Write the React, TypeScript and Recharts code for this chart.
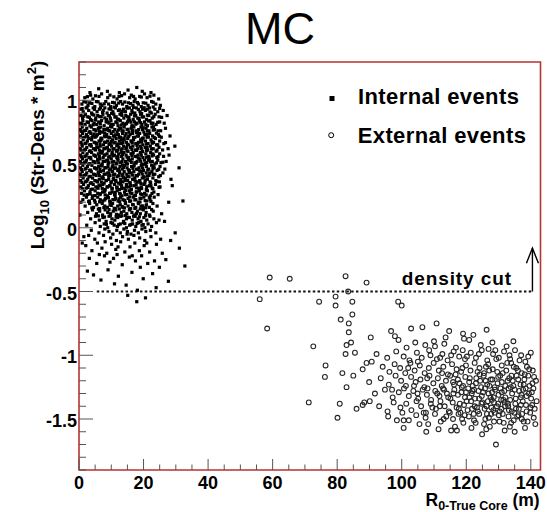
import React from 'react';
import { ScatterChart, Scatter, XAxis, YAxis, ReferenceLine, ReferenceDot, ReferenceArea, Legend } from 'recharts';

// Internal events: flat list of (R [m], log10 density) pairs
const internalEvents: number[] = [
  3.4,1.06, 6.1,1.09, 8.8,1.07, 12.5,1.06, 15.2,1.08, 17.9,1.1, 19.6,1.07, 22.3,1.06,
  1.8,1.02, 3.6,1.04, 4.3,1.01, 6.2,1.03, 7.0,1.05, 8.9,1.02, 9.6,1.04, 11.8,1.01, 12.4,1.03, 14.1,1.05, 15.7,1.02, 16.2,1.04, 17.4,1.01, 18.8,1.03, 20.3,1.05, 21.1,1.02, 23.2,1.04, 24.7,1.01,
  0.9,0.97, 1.5,0.99, 2.8,0.96, 3.3,0.98, 4.9,0.95, 5.4,0.99, 6.6,0.97, 7.1,0.96, 8.3,0.99, 9.2,0.97, 9.8,0.95, 11.0,0.98, 11.6,0.96, 12.9,0.99, 13.5,0.97, 14.8,0.95, 15.3,0.98, 16.7,0.96, 17.1,0.99, 18.4,0.97, 19.3,0.95, 19.9,0.98, 21.4,0.96, 22.5,0.99, 23.8,0.97, 25.2,0.96,
  0.7,0.93, 1.3,0.91, 2.2,0.94, 3.0,0.92, 3.9,0.9, 4.4,0.94, 5.6,0.91, 6.3,0.93, 7.5,0.92, 8.0,0.94, 8.7,0.9, 9.9,0.93, 10.5,0.91, 11.3,0.94, 12.2,0.92, 13.1,0.9, 13.8,0.93, 14.4,0.91, 15.6,0.94, 16.4,0.92, 17.3,0.9, 17.8,0.94, 18.9,0.91, 19.7,0.93, 20.6,0.92, 21.8,0.94, 22.4,0.9, 23.5,0.93, 24.4,0.91, 26.1,0.92,
  0.6,0.88, 1.1,0.86, 2.0,0.89, 2.7,0.87, 3.6,0.85, 4.1,0.89, 5.2,0.86, 5.8,0.88, 6.9,0.87, 7.4,0.89, 8.5,0.85, 9.1,0.88, 9.7,0.86, 10.8,0.89, 11.5,0.87, 12.3,0.85, 12.7,0.89, 13.9,0.86, 14.5,0.88, 15.1,0.87, 16.0,0.89, 16.8,0.85, 17.6,0.88, 18.2,0.86, 19.1,0.89, 20.0,0.87, 20.9,0.85, 21.6,0.88, 22.7,0.86, 23.6,0.89, 24.8,0.87, 27.3,0.88,
  0.5,0.82, 1.2,0.84, 1.9,0.81, 2.5,0.83, 3.4,0.8, 4.0,0.84, 4.7,0.82, 5.5,0.81, 6.1,0.83, 7.0,0.84, 7.8,0.8, 8.4,0.83, 9.3,0.82, 9.9,0.84, 10.6,0.81, 11.4,0.83, 12.1,0.8, 12.8,0.84, 13.6,0.82, 14.2,0.81, 15.0,0.83, 15.7,0.84, 16.5,0.8, 17.2,0.83, 18.0,0.82, 18.7,0.84, 19.5,0.81, 20.3,0.83, 21.2,0.8, 22.0,0.84, 22.9,0.82, 23.9,0.81, 25.0,0.83, 26.4,0.82,
  0.4,0.77, 1.0,0.79, 1.6,0.76, 2.4,0.78, 3.1,0.75, 3.8,0.79, 4.6,0.77, 5.3,0.76, 6.0,0.78, 6.7,0.79, 7.3,0.75, 8.2,0.77, 8.9,0.78, 9.5,0.76, 10.2,0.79, 11.1,0.77, 11.8,0.75, 12.6,0.78, 13.3,0.76, 14.0,0.79, 14.9,0.77, 15.5,0.75, 16.2,0.78, 17.0,0.79, 17.7,0.76, 18.5,0.77, 19.2,0.79, 20.1,0.75, 20.8,0.78, 21.7,0.76, 22.6,0.79, 23.4,0.77, 24.5,0.76, 26.8,0.78,
  0.5,0.72, 1.1,0.74, 1.8,0.71, 2.3,0.73, 3.0,0.7, 3.7,0.74, 4.3,0.72, 5.0,0.71, 5.7,0.73, 6.4,0.74, 7.1,0.7, 7.9,0.72, 8.6,0.73, 9.2,0.71, 10.0,0.74, 10.7,0.72, 11.5,0.7, 12.2,0.73, 12.9,0.71, 13.5,0.74, 14.3,0.72, 15.1,0.7, 15.8,0.73, 16.6,0.74, 17.3,0.71, 18.1,0.72, 18.8,0.74, 19.6,0.7, 20.4,0.73, 21.1,0.71, 21.9,0.74, 22.8,0.72, 23.7,0.7, 24.6,0.73, 25.5,0.71, 28.2,0.72,
  0.6,0.67, 1.3,0.69, 1.9,0.66, 2.6,0.68, 3.3,0.65, 3.9,0.69, 4.7,0.67, 5.4,0.66, 6.2,0.68, 6.8,0.69, 7.6,0.65, 8.3,0.67, 8.9,0.68, 9.7,0.66, 10.4,0.69, 11.2,0.67, 11.9,0.65, 12.5,0.68, 13.2,0.66, 14.0,0.69, 14.7,0.67, 15.4,0.65, 16.1,0.68, 16.9,0.69, 17.6,0.66, 18.4,0.67, 19.1,0.69, 19.8,0.65, 20.6,0.68, 21.4,0.66, 22.3,0.69, 23.1,0.67, 24.0,0.65, 25.0,0.68, 26.3,0.66, 29.7,0.64,
  0.4,0.62, 1.0,0.64, 1.7,0.61, 2.4,0.63, 3.2,0.6, 3.8,0.64, 4.5,0.62, 5.1,0.61, 5.9,0.63, 6.6,0.64, 7.3,0.6, 8.0,0.62, 8.8,0.63, 9.4,0.61, 10.1,0.64, 10.9,0.62, 11.6,0.6, 12.4,0.63, 13.0,0.61, 13.8,0.64, 14.5,0.62, 15.2,0.6, 16.0,0.63, 16.7,0.64, 17.5,0.61, 18.2,0.62, 19.0,0.64, 19.7,0.6, 20.5,0.63, 21.3,0.61, 22.1,0.64, 23.0,0.62, 23.9,0.6, 24.8,0.63, 25.9,0.61, 27.6,0.62,
  0.5,0.57, 1.2,0.59, 1.8,0.56, 2.5,0.58, 3.1,0.55, 3.9,0.59, 4.6,0.57, 5.2,0.56, 6.0,0.58, 6.7,0.59, 7.5,0.55, 8.1,0.57, 8.7,0.58, 9.6,0.56, 10.3,0.59, 11.0,0.57, 11.7,0.55, 12.3,0.58, 13.1,0.56, 13.9,0.59, 14.6,0.57, 15.3,0.55, 16.1,0.58, 16.8,0.59, 17.4,0.56, 18.3,0.57, 19.0,0.59, 19.8,0.55, 20.7,0.58, 21.5,0.56, 22.2,0.59, 23.1,0.57, 24.1,0.55, 25.0,0.58, 26.2,0.56, 27.9,0.57,
  0.4,0.52, 1.1,0.54, 1.7,0.51, 2.3,0.53, 3.0,0.5, 3.7,0.54, 4.4,0.52, 5.0,0.51, 5.8,0.53, 6.5,0.54, 7.2,0.5, 7.9,0.52, 8.6,0.53, 9.3,0.51, 10.0,0.54, 10.8,0.52, 11.5,0.5, 12.1,0.53, 12.9,0.51, 13.6,0.54, 14.4,0.52, 15.0,0.5, 15.9,0.53, 16.5,0.54, 17.3,0.51, 18.0,0.52, 18.8,0.54, 19.5,0.5, 20.3,0.53, 21.0,0.51, 21.8,0.54, 22.7,0.52, 23.5,0.5, 24.4,0.53, 25.4,0.51, 27.0,0.52,
  0.5,0.47, 1.2,0.49, 1.9,0.46, 2.6,0.48, 3.3,0.45, 4.0,0.49, 4.8,0.47, 5.5,0.46, 6.1,0.48, 6.9,0.49, 7.6,0.45, 8.4,0.47, 9.0,0.48, 9.8,0.46, 10.5,0.49, 11.3,0.47, 12.0,0.45, 12.7,0.48, 13.4,0.46, 14.1,0.49, 14.9,0.47, 15.6,0.45, 16.3,0.48, 17.1,0.49, 17.8,0.46, 18.6,0.47, 19.3,0.49, 20.0,0.45, 20.9,0.48, 21.6,0.46, 22.5,0.49, 23.3,0.47, 24.2,0.45, 25.1,0.48, 26.6,0.46, 31.0,0.47,
  0.4,0.42, 1.0,0.44, 1.6,0.41, 2.4,0.43, 3.1,0.4, 3.8,0.44, 4.5,0.42, 5.3,0.41, 6.0,0.43, 6.7,0.44, 7.4,0.4, 8.2,0.42, 8.9,0.43, 9.6,0.41, 10.4,0.44, 11.1,0.42, 11.8,0.4, 12.6,0.43, 13.3,0.41, 14.0,0.44, 14.8,0.42, 15.5,0.4, 16.2,0.43, 17.0,0.44, 17.7,0.41, 18.5,0.42, 19.2,0.44, 20.0,0.4, 20.8,0.43, 21.7,0.41, 22.6,0.44, 23.5,0.42, 24.7,0.4, 26.0,0.43,
  0.5,0.37, 1.3,0.39, 2.0,0.36, 2.7,0.38, 3.5,0.35, 4.2,0.39, 4.9,0.37, 5.7,0.36, 6.3,0.38, 7.1,0.39, 7.8,0.35, 8.5,0.37, 9.2,0.38, 10.0,0.36, 10.7,0.39, 11.4,0.37, 12.2,0.35, 12.9,0.38, 13.6,0.36, 14.4,0.39, 15.1,0.37, 15.8,0.35, 16.6,0.38, 17.3,0.39, 18.1,0.36, 18.8,0.37, 19.6,0.39, 20.4,0.35, 21.2,0.38, 22.0,0.36, 22.9,0.39, 23.8,0.37, 24.9,0.36, 28.5,0.38,
  0.6,0.32, 1.4,0.34, 2.2,0.31, 2.9,0.33, 3.7,0.3, 4.4,0.34, 5.2,0.32, 5.9,0.31, 6.6,0.33, 7.4,0.34, 8.1,0.3, 8.8,0.32, 9.5,0.33, 10.3,0.31, 11.0,0.34, 11.8,0.32, 12.5,0.3, 13.2,0.33, 14.0,0.31, 14.7,0.34, 15.5,0.32, 16.2,0.3, 17.0,0.33, 17.7,0.34, 18.5,0.31, 19.3,0.32, 20.1,0.34, 20.9,0.3, 21.8,0.33, 22.7,0.31, 23.7,0.34, 25.1,0.32,
  0.8,0.27, 1.7,0.29, 2.6,0.26, 3.4,0.28, 4.2,0.25, 5.0,0.29, 5.8,0.27, 6.5,0.26, 7.3,0.28, 8.0,0.29, 8.8,0.25, 9.5,0.27, 10.3,0.28, 11.0,0.26, 11.8,0.29, 12.6,0.27, 13.3,0.25, 14.1,0.28, 14.8,0.26, 15.6,0.29, 16.4,0.27, 17.1,0.25, 17.9,0.28, 18.7,0.29, 19.5,0.26, 20.3,0.27, 21.2,0.29, 22.1,0.25, 23.2,0.28, 24.5,0.26,
  1.2,0.22, 2.3,0.24, 3.2,0.21, 4.1,0.23, 5.0,0.2, 5.8,0.24, 6.6,0.22, 7.4,0.21, 8.2,0.23, 9.0,0.24, 9.7,0.2, 10.5,0.22, 11.3,0.23, 12.1,0.21, 12.9,0.24, 13.6,0.22, 14.4,0.2, 15.2,0.23, 16.0,0.21, 16.8,0.24, 17.6,0.22, 18.4,0.2, 19.2,0.23, 20.1,0.24, 21.0,0.21, 22.0,0.22, 23.3,0.24, 32.2,0.21,
  1.9,0.17, 3.3,0.19, 4.5,0.16, 5.5,0.18, 6.4,0.15, 7.2,0.19, 8.0,0.17, 8.8,0.16, 9.6,0.18, 10.4,0.19, 11.2,0.15, 12.0,0.17, 12.8,0.18, 13.6,0.16, 14.4,0.19, 15.2,0.17, 16.0,0.15, 16.8,0.18, 17.6,0.16, 18.4,0.19, 19.2,0.17, 20.0,0.15, 20.9,0.18, 21.8,0.16, 22.9,0.19, 24.2,0.17,
  2.7,0.12, 4.2,0.14, 5.4,0.11, 6.4,0.13, 7.3,0.1, 8.1,0.14, 8.9,0.12, 9.8,0.11, 10.6,0.13, 11.4,0.14, 12.3,0.1, 13.1,0.12, 13.9,0.13, 14.8,0.11, 15.6,0.14, 16.4,0.12, 17.3,0.1, 18.1,0.13, 19.0,0.11, 19.9,0.14, 20.8,0.12, 21.8,0.1, 23.0,0.13, 25.6,0.11,
  3.6,0.07, 5.1,0.09, 6.3,0.06, 7.4,0.08, 8.4,0.05, 9.3,0.09, 10.2,0.07, 11.1,0.06, 12.0,0.08, 12.9,0.09, 13.8,0.05, 14.7,0.07, 15.6,0.08, 16.5,0.06, 17.4,0.09, 18.3,0.07, 19.2,0.05, 20.1,0.08, 21.0,0.06, 22.0,0.09, 23.2,0.07, 24.8,0.06,
  2.4,0.02, 5.0,0.04, 6.6,0.01, 7.8,0.03, 8.9,0.0, 9.9,0.04, 10.9,0.02, 11.9,0.01, 12.8,0.03, 13.8,0.04, 14.7,0.0, 15.7,0.02, 16.6,0.03, 17.6,0.01, 18.5,0.04, 19.5,0.02, 20.4,0.0, 21.4,0.03, 22.5,0.01, 24.0,0.04,
  3.8,-0.02, 6.2,-0.04, 8.0,-0.01, 9.3,-0.03, 10.5,-0.05, 11.7,-0.02, 12.8,-0.04, 13.9,-0.01, 15.0,-0.03, 16.1,-0.05, 17.2,-0.02, 18.4,-0.04, 19.5,-0.01, 20.7,-0.03, 22.1,-0.02, 23.8,-0.04,
  1.5,-0.07, 4.9,-0.09, 7.6,-0.06, 9.8,-0.08, 11.6,-0.1, 13.5,-0.07, 15.3,-0.09, 17.0,-0.06, 18.8,-0.08, 20.4,-0.1, 22.3,-0.07, 25.3,-0.09,
  2.1,-0.14, 4.0,-0.18, 5.7,-0.12, 7.1,-0.16, 8.6,-0.2, 10.1,-0.13, 11.4,-0.17, 12.9,-0.11, 14.2,-0.19, 15.8,-0.15, 17.3,-0.12, 18.7,-0.18, 20.2,-0.14, 21.9,-0.19, 24.0,-0.13, 31.1,-0.16,
  3.2,-0.24, 5.5,-0.28, 7.9,-0.22, 9.6,-0.27, 11.8,-0.21, 13.4,-0.29, 15.6,-0.23, 17.5,-0.26, 19.4,-0.22, 21.3,-0.28, 26.9,-0.25, 32.8,-0.3,
  2.6,-0.34, 6.8,-0.41, 9.0,-0.33, 12.2,-0.38, 14.6,-0.45, 16.4,-0.35, 18.1,-0.49, 19.9,-0.4, 22.8,-0.36, 27.7,-0.42, 15.1,-0.53, 17.9,-0.58, 20.6,-0.55, 24.9,-0.31,
  1.0,-0.12, 3.0,-0.06, 6.3,-0.21, 8.1,-0.11, 10.7,-0.24, 12.1,-0.15, 14.9,-0.05, 16.5,-0.22, 19.0,-0.31, 21.0,-0.12, 23.4,-0.26, 25.8,-0.2, 28.4,-0.1, 29.8,-0.04, 4.5,-0.37, 11.0,-0.44, 23.9,-0.47, 26.5,0.05, 27.8,0.2, 28.9,0.33, 0.3,0.1, 0.6,0.2,
  2.2,0.985, 4.0,0.975, 5.9,0.988, 7.8,0.972, 10.4,0.983, 12.3,0.978, 14.2,0.986, 16.0,0.974, 18.1,0.982, 20.7,0.977, 23.0,0.984,
  1.0,0.935, 2.5,0.945, 4.8,0.928, 6.7,0.942, 9.3,0.932, 10.9,0.946, 12.6,0.925, 14.9,0.938, 16.9,0.944, 18.4,0.927, 20.2,0.941, 21.2,0.93, 23.0,0.947, 25.0,0.936,
  1.5,0.875, 3.2,0.866, 4.6,0.884, 6.4,0.872, 8.0,0.861, 9.4,0.879, 11.1,0.868, 13.3,0.882, 15.5,0.864, 17.2,0.877, 19.6,0.869, 21.2,0.883, 23.2,0.871, 25.6,0.866,
  0.9,0.815, 2.9,0.826, 4.4,0.807, 6.6,0.818, 8.9,0.829, 10.1,0.811, 11.8,0.823, 13.1,0.806, 14.7,0.817, 16.1,0.828, 17.6,0.812, 19.1,0.824, 20.7,0.808, 22.4,0.819, 24.4,0.827,
  0.7,0.756, 2.0,0.764, 3.4,0.753, 5.0,0.768, 6.4,0.757, 7.7,0.771, 9.2,0.762, 10.6,0.754, 12.2,0.767, 13.7,0.759, 15.2,0.772, 16.6,0.763, 18.1,0.755, 19.7,0.769, 21.2,0.758, 23.0,0.766, 25.3,0.761,
  1.4,0.705, 2.7,0.716, 4.0,0.708, 5.4,0.719, 6.8,0.703, 8.2,0.714, 9.6,0.706, 11.0,0.718, 12.5,0.709, 13.9,0.702, 15.4,0.716, 16.9,0.707, 18.4,0.719, 19.9,0.704, 21.5,0.713, 23.3,0.708, 24.9,0.717,
  0.9,0.655, 2.2,0.664, 3.6,0.652, 5.0,0.667, 6.5,0.658, 7.9,0.671, 9.3,0.653, 10.8,0.665, 12.2,0.657, 13.6,0.669, 15.0,0.654, 16.5,0.666, 18.0,0.659, 19.4,0.672, 20.9,0.656, 22.7,0.663, 24.4,0.651, 26.8,0.668,
  0.7,0.606, 2.0,0.615, 3.5,0.603, 4.9,0.618, 6.3,0.609, 7.7,0.621, 9.1,0.604, 10.5,0.616, 11.9,0.608, 13.4,0.619, 14.9,0.602, 16.4,0.613, 17.8,0.607, 19.3,0.622, 20.9,0.605, 22.5,0.617, 24.2,0.609,
  0.8,0.556, 2.2,0.565, 3.5,0.552, 4.9,0.567, 6.3,0.558, 7.8,0.571, 9.2,0.553, 10.6,0.564, 12.0,0.559, 13.5,0.572, 14.9,0.554, 16.4,0.566, 17.9,0.557, 19.3,0.569, 20.9,0.553, 22.6,0.563, 24.5,0.558,
  0.7,0.505, 2.0,0.516, 3.4,0.503, 4.7,0.518, 6.1,0.509, 7.5,0.521, 9.0,0.504, 10.4,0.515, 11.8,0.508, 13.3,0.519, 14.7,0.502, 16.2,0.513, 17.7,0.507, 19.1,0.522, 20.6,0.505, 22.2,0.517, 24.0,0.509, 26.0,0.514,
  0.8,0.456, 2.2,0.465, 3.6,0.452, 5.1,0.467, 6.5,0.458, 8.0,0.471, 9.4,0.453, 10.9,0.464, 12.3,0.459, 13.8,0.472, 15.3,0.454, 16.7,0.466, 18.2,0.457, 19.7,0.469, 21.3,0.453, 22.9,0.463, 24.7,0.458,
  0.7,0.405, 2.1,0.416, 3.5,0.403, 4.9,0.418, 6.3,0.409, 7.8,0.421, 9.2,0.404, 10.7,0.415, 12.2,0.408, 13.6,0.419, 15.1,0.402, 16.6,0.413, 18.1,0.407, 19.6,0.422, 21.2,0.405, 23.0,0.417, 25.2,0.41,
  0.9,0.356, 2.4,0.365, 3.9,0.352, 5.4,0.367, 6.9,0.358, 8.4,0.371, 9.9,0.353, 11.4,0.364, 12.9,0.359, 14.3,0.372, 15.8,0.354, 17.4,0.366, 18.9,0.357, 20.5,0.369, 22.2,0.353, 24.1,0.363,
  1.1,0.305, 2.7,0.316, 4.2,0.303, 5.7,0.318, 7.2,0.309, 8.7,0.321, 10.2,0.304, 11.7,0.315, 13.2,0.308, 14.7,0.319, 16.2,0.302, 17.8,0.313, 19.4,0.307, 21.0,0.322, 22.9,0.305, 24.8,0.317,
  1.6,0.256, 3.4,0.265, 5.0,0.252, 6.6,0.267, 8.1,0.258, 9.7,0.271, 11.2,0.253, 12.8,0.264, 14.3,0.259, 15.9,0.272, 17.5,0.254, 19.1,0.266, 20.8,0.257, 22.6,0.269,
  3.0,0.205, 4.8,0.216, 6.4,0.203, 8.0,0.218, 9.5,0.209, 11.0,0.221, 12.6,0.204, 14.1,0.215, 15.7,0.208, 17.3,0.219, 18.9,0.202, 20.5,0.213, 22.3,0.207,
  4.0,0.155, 6.0,0.146, 7.7,0.158, 9.3,0.142, 10.9,0.153, 12.5,0.147, 14.1,0.156, 15.7,0.144, 17.3,0.152, 19.0,0.148, 20.7,0.157, 22.5,0.143,
  6.0,0.093, 7.9,0.084, 9.7,0.096, 11.5,0.087, 13.3,0.094, 15.1,0.082, 16.9,0.091, 18.7,0.086, 20.6,0.095,
  8.5,0.027, 10.4,0.035, 12.3,0.024, 14.2,0.033, 16.1,0.026, 18.0,0.034, 19.9,0.025,
  2.6,1.028, 5.1,1.035, 10.8,1.027, 13.2,1.036, 16.9,1.03, 19.3,1.025, 22.0,1.032,
  7.3,0.905, 10.1,0.897, 13.4,0.912, 16.5,0.903, 19.4,0.896, 22.0,0.908,
  5.1,0.845, 8.6,0.836, 11.9,0.852, 15.3,0.841, 18.6,0.857, 21.5,0.838,
  6.3,0.786, 9.8,0.794, 13.0,0.781, 16.4,0.797, 19.9,0.784, 23.1,0.792,
  4.7,0.735, 8.0,0.743, 11.3,0.728, 14.6,0.739, 17.8,0.746, 21.0,0.731, 24.0,0.742,
  6.7,0.684, 10.0,0.676, 13.1,0.691, 16.3,0.679, 19.5,0.687, 22.6,0.674,
  5.5,0.635, 8.6,0.627, 11.7,0.642, 14.8,0.631, 18.0,0.646, 21.1,0.629,
  7.0,0.585, 10.2,0.577, 13.2,0.592, 16.5,0.581, 19.6,0.596, 22.8,0.579,
  5.8,0.535, 8.9,0.527, 12.0,0.542, 15.3,0.531, 18.4,0.546, 21.5,0.529,
  7.1,0.485, 10.3,0.477, 13.5,0.492, 16.7,0.481, 19.9,0.496, 23.0,0.479,
  6.0,0.435, 9.3,0.427, 12.5,0.442, 15.6,0.431, 18.8,0.446, 21.9,0.429,
  7.5,0.385, 10.6,0.377, 13.8,0.392, 17.0,0.381, 20.2,0.396,
  6.2,0.335, 9.6,0.327, 12.8,0.342, 16.0,0.331, 19.2,0.346, 22.3,0.329,
  7.8,0.285, 11.2,0.277, 14.5,0.292, 17.7,0.281, 20.9,0.296,
  9.1,0.235, 12.4,0.227, 15.7,0.242, 18.9,0.231, 21.8,0.238,
  10.0,0.175, 13.4,0.167, 16.6,0.182, 19.8,0.171,
  11.6,0.105, 14.4,0.097, 17.8,0.112,
];

// External events: flat list of (R [m], log10 density) pairs
const externalEvents: number[] = [
  59.1,-0.39, 65.3,-0.4, 82.6,-0.38, 89.1,-0.43, 83.4,-0.5, 56.0,-0.56, 58.3,-0.79, 74.4,-0.58, 79.5,-0.54, 79.5,-0.61,
  84.7,-0.58, 84.7,-0.68, 98.9,-0.58, 100.0,-0.61, 81.1,-0.72, 83.6,-0.75, 83.6,-0.82, 82.9,-0.92, 84.3,-0.9, 85.5,-0.98,
  82.6,-0.99, 72.6,-0.93, 76.4,-1.08, 76.2,-1.17, 81.6,-1.14, 85.0,-1.16, 71.2,-1.37, 80.8,-1.38, 87.9,-1.39,
  96.7,-0.81, 102.9,-0.79, 106.4,-0.78, 110.8,-0.75, 114.7,-0.81, 119.0,-0.83, 126.3,-0.8, 97.9,-0.85, 113.6,-0.86, 122.2,-0.84,
  99.0,-0.88, 104.2,-0.9, 110.0,-0.89, 110.3,-0.93, 119.3,-0.87, 120.9,-0.88, 124.5,-0.92, 128.1,-0.9, 132.5,-0.93, 116.8,-0.94, 107.3,-0.92, 101.5,-0.94, 134.6,-0.89, 90.4,-0.86, 113.2,-0.91, 126.9,-0.95,
  92.2,-0.99, 95.5,-1.02, 98.3,-0.97, 100.6,-1.01, 102.4,-1.04, 104.7,-0.98, 106.2,-1.02, 108.5,-0.96, 110.9,-1.03, 112.6,-0.99, 114.2,-1.04, 116.1,-0.97, 117.8,-1.01, 119.6,-1.03, 121.4,-0.98, 123.0,-1.02, 124.8,-0.96, 126.5,-1.04, 128.3,-0.99, 130.1,-1.02, 131.7,-0.97, 133.6,-1.03, 135.1,-0.96, 137.0,-1.0, 139.2,-1.01, 89.1,-1.06,
  87.9,-1.11, 90.7,-1.05, 94.1,-1.09, 96.2,-1.13, 97.8,-1.07, 99.5,-1.1, 101.1,-1.14, 102.7,-1.06, 104.0,-1.12, 105.6,-1.08, 107.1,-1.14, 108.4,-1.1, 109.9,-1.06, 111.5,-1.12, 112.9,-1.09, 114.3,-1.15, 115.6,-1.07, 117.0,-1.11, 118.4,-1.13, 119.9,-1.08, 121.3,-1.12, 122.6,-1.06, 124.1,-1.1, 125.5,-1.14, 126.8,-1.07, 128.2,-1.11, 129.6,-1.13, 131.0,-1.08, 132.4,-1.12, 133.9,-1.06, 135.5,-1.1, 137.2,-1.14, 138.8,-1.09, 140.6,-1.12,
  89.9,-1.21, 93.5,-1.18, 96.0,-1.23, 98.1,-1.16, 99.8,-1.2, 101.3,-1.24, 102.9,-1.17, 104.3,-1.21, 105.8,-1.19, 107.0,-1.25, 108.6,-1.16, 109.8,-1.22, 111.2,-1.18, 112.4,-1.24, 113.7,-1.2, 115.0,-1.16, 116.2,-1.23, 117.4,-1.19, 118.6,-1.25, 119.7,-1.17, 120.9,-1.21, 122.0,-1.24, 123.1,-1.18, 124.3,-1.2, 125.4,-1.16, 126.5,-1.23, 127.6,-1.19, 128.8,-1.25, 129.9,-1.17, 131.0,-1.21, 132.1,-1.24, 133.3,-1.18, 134.4,-1.2, 135.6,-1.16, 136.8,-1.23, 138.0,-1.19, 139.2,-1.16, 140.5,-1.22, 141.6,-1.2, 82.9,-1.25,
  91.7,-1.3, 94.8,-1.27, 97.2,-1.33, 99.1,-1.29, 100.7,-1.26, 102.2,-1.32, 103.6,-1.28, 105.1,-1.34, 106.5,-1.27, 107.8,-1.31, 109.1,-1.35, 110.4,-1.28, 111.7,-1.32, 112.8,-1.26, 114.0,-1.3, 115.1,-1.34, 116.3,-1.27, 117.4,-1.31, 118.5,-1.29, 119.6,-1.33, 120.6,-1.26, 121.7,-1.3, 122.7,-1.34, 123.8,-1.28, 124.8,-1.32, 125.8,-1.26, 126.9,-1.3, 127.9,-1.35, 128.9,-1.27, 130.0,-1.31, 131.0,-1.29, 132.1,-1.33, 133.1,-1.26, 134.2,-1.3, 135.3,-1.34, 136.4,-1.28, 137.6,-1.27, 138.7,-1.32, 139.4,-1.3, 140.8,-1.26, 141.8,-1.36, 88.4,-1.37,
  86.0,-1.42, 90.1,-1.36, 93.0,-1.4, 95.6,-1.44, 97.5,-1.37, 99.6,-1.41, 101.4,-1.38, 103.0,-1.43, 104.6,-1.36, 106.0,-1.4, 107.5,-1.45, 109.0,-1.38, 110.6,-1.42, 112.0,-1.36, 113.3,-1.4, 114.6,-1.44, 115.8,-1.37, 117.0,-1.41, 118.2,-1.45, 119.3,-1.39, 120.4,-1.43, 121.5,-1.36, 122.6,-1.4, 123.6,-1.44, 124.7,-1.38, 125.7,-1.42, 126.7,-1.36, 127.8,-1.41, 128.8,-1.45, 129.9,-1.38, 130.9,-1.42, 131.9,-1.37, 133.0,-1.4, 134.1,-1.44, 135.2,-1.38, 136.3,-1.42, 137.5,-1.36, 138.7,-1.44, 139.8,-1.45, 140.4,-1.39,
  95.8,-1.48, 98.5,-1.51, 100.6,-1.51, 102.2,-1.51, 104.5,-1.47, 105.5,-1.54, 107.4,-1.49, 108.2,-1.54, 110.3,-1.46, 112.1,-1.52, 113.8,-1.48, 115.9,-1.5, 117.6,-1.46, 119.1,-1.53, 120.8,-1.48, 122.4,-1.51, 124.0,-1.46, 125.5,-1.54, 127.0,-1.49, 128.6,-1.52, 130.1,-1.47, 131.6,-1.53, 133.1,-1.48, 134.7,-1.51, 136.2,-1.47, 137.8,-1.52, 141.4,-1.54, 80.1,-1.49,
  100.6,-1.57, 107.6,-1.6, 115.3,-1.59, 117.1,-1.59, 121.6,-1.57, 124.9,-1.62, 127.3,-1.56, 129.2,-1.7, 131.9,-1.59, 135.0,-1.6, 138.2,-1.57, 111.4,-1.58,
  105.0,-1.05, 107.9,-1.18, 111.9,-1.02, 113.1,-1.27, 116.7,-1.15, 118.0,-1.38, 120.2,-1.01, 121.9,-1.28, 123.5,-1.13, 125.0,-1.37, 126.1,-1.09, 127.2,-1.24, 128.4,-1.43, 129.3,-1.03, 130.5,-1.16, 131.5,-1.35, 132.7,-1.06, 133.8,-1.25, 134.9,-1.45, 136.0,-1.12, 137.1,-1.31, 138.3,-1.05, 139.6,-1.24, 141.2,-1.42,
  114.9,-1.45, 117.9,-1.22, 119.5,-1.47, 121.0,-1.33, 122.3,-1.46, 124.6,-1.25, 125.9,-1.5, 127.5,-1.33, 128.1,-1.19, 129.5,-1.4, 130.6,-1.26, 131.3,-1.46, 132.9,-1.38, 134.0,-1.16, 135.8,-1.48, 136.9,-1.39, 138.4,-1.26, 139.0,-1.52, 140.1,-1.34,
  109.5,-1.41, 111.0,-1.3, 106.8,-1.45, 103.8,-1.24, 100.2,-1.45, 97.0,-1.27, 102.0,-1.1, 108.9,-1.0, 115.3,-1.0, 118.9,-0.96, 123.9,-0.99, 129.0,-0.96, 133.4,-1.0, 136.5,-1.04, 140.0,-0.98,
  113.0,-1.5, 118.7,-1.5, 122.9,-1.53, 126.4,-1.46, 130.3,-1.52, 133.9,-1.53, 137.2,-1.5, 140.9,-1.49, 116.5,-1.56, 126.2,-1.58, 133.5,-1.56,
  112.5,-1.14, 114.4,-1.33, 115.9,-1.21, 117.7,-1.42, 118.8,-1.1, 120.1,-1.36, 121.1,-1.18, 122.4,-1.27, 123.3,-1.41, 124.2,-1.15, 125.2,-1.29, 126.3,-1.4, 127.1,-1.12, 128.0,-1.29, 128.6,-1.37, 129.7,-1.22, 130.4,-1.44, 131.3,-1.14, 132.0,-1.4, 132.8,-1.2, 133.6,-1.35, 134.6,-1.24, 135.4,-1.42, 136.1,-1.19, 136.9,-1.33, 137.8,-1.23, 138.5,-1.39, 139.5,-1.11, 140.3,-1.29, 141.0,-1.17,
  116.0,-1.3, 119.0,-1.24, 121.8,-1.42, 124.0,-1.34, 126.0,-1.2, 128.5,-1.33, 130.8,-1.35, 133.2,-1.43, 135.0,-1.27, 137.3,-1.46, 139.9,-1.41, 111.8,-1.4, 108.0,-1.26, 104.9,-1.3, 119.9,-1.29, 123.0,-1.22, 127.7,-1.46, 131.8,-1.28, 134.7,-1.09, 138.1,-1.15,
];

const xTicks = [0, 5, 10, 15, 20, 25, 30, 35, 40, 45, 50, 55, 60, 65, 70, 75, 80, 85, 90, 95, 100, 105, 110, 115, 120, 125, 130, 135, 140];
const xMajorTicks = [0, 20, 40, 60, 80, 100, 120, 140];
const yTicks = [-1.9, -1.8, -1.7, -1.6, -1.5, -1.4, -1.3, -1.2, -1.1, -1, -0.9, -0.8, -0.7, -0.6, -0.5, -0.4, -0.3, -0.2, -0.1, 0,
  0.1, 0.2, 0.3, 0.4, 0.5, 0.6, 0.7, 0.8, 0.9, 1, 1.1, 1.2, 1.3];
const yMajorTicks = [-1.5, -1, -0.5, 0, 0.5, 1];
const xDomain = [0, 143];
const yDomain = [-1.9, 1.3];
const densityCut = -0.5;
const cutStart = 5.5;
const cutEnd = 140.5;
const arrowTip = -0.16;
const cutLabel = 'density cut';
const title = 'MC';
const seriesNames = ['Internal events', 'External events'];

const FONT = '"Liberation Sans", Arial, Helvetica, sans-serif';
const FRAME = '#b8322f';

const toPoints = (flat: number[]) => {
  const out: { x: number; y: number }[] = [];
  for (let i = 0; i + 1 < flat.length; i += 2) out.push({ x: flat[i], y: flat[i + 1] });
  return out;
};
const internalData = toPoints(internalEvents);
const externalData = toPoints(externalEvents);

const isMajor = (list: number[], v: number) => list.some((m) => Math.abs(m - v) < 1e-6);

const XTick = (props: any) => {
  const { x, y, payload } = props;
  const v = payload.value;
  const major = isMajor(xMajorTicks, v);
  return (
    <g>
      <line x1={x} x2={x} y1={y} y2={y - (major ? 11 : 5.5)} stroke="#555" strokeWidth={1} />
      {major && (
        <text x={x} y={y + 18.5} textAnchor="middle" fontFamily={FONT} fontWeight="bold" fontSize={18} fill="#000">
          {String(v)}
        </text>
      )}
    </g>
  );
};

const YTick = (props: any) => {
  const { x, y, payload } = props;
  const v = payload.value;
  const major = isMajor(yMajorTicks, v);
  return (
    <g>
      <line x1={x} x2={x + (major ? 14 : 7)} y1={y} y2={y} stroke="#555" strokeWidth={1} />
      {major && (
        <text x={x - 2} y={y + 8} textAnchor="end" fontFamily={FONT} fontWeight="bold" fontSize={18} fill="#000">
          {String(Math.round(v * 10) / 10)}
        </text>
      )}
    </g>
  );
};

const XLabel = (props: any) => {
  const vb = props.viewBox || { x: 79, y: 470, width: 461, height: 42 };
  const x0 = vb.x + vb.width - 115;
  const y0 = vb.y + 36;
  return (
    <text x={x0} y={y0} fontFamily={FONT} fontWeight="bold" fontSize={17.5} fill="#000">
      R
      <tspan fontSize={12.5} dy={3.5}>0-True Core</tspan>
      <tspan dy={-3.5}>{' (m)'}</tspan>
    </text>
  );
};

const YLabel = (props: any) => {
  const vb = props.viewBox || { x: 0, y: 62, width: 79, height: 408 };
  const cx = vb.x + 44;
  const cy = vb.y + 93;
  return (
    <text
      x={cx}
      y={cy}
      transform={`rotate(-90 ${cx} ${cy})`}
      textAnchor="middle"
      fontFamily={FONT}
      fontWeight="bold"
      fontSize={19}
      fill="#000"
    >
      Log
      <tspan fontSize={13} dy={5}>10</tspan>
      <tspan dy={-5}>{' (Str-Dens * m'}</tspan>
      <tspan fontSize={13} dy={-8}>2</tspan>
      <tspan dy={8}>)</tspan>
    </text>
  );
};

const InternalShape = (p: any) => (
  <rect x={p.cx - 1.6} y={p.cy - 1.6} width={3.2} height={3.2} fill="#000" />
);
const ExternalShape = (p: any) => (
  <circle cx={p.cx} cy={p.cy} r={2.4} fill="none" stroke="#262626" strokeWidth={1.1} />
);

const renderLegend = () => (
  <svg width={547} height={160} style={{ position: 'absolute', left: 0, top: 0, overflow: 'visible', pointerEvents: 'none' }}>
    <rect x={329.5} y={96} width={5} height={5} fill="#000" />
    <text x={358} y={104.3} fontFamily={FONT} fontWeight="bold" fontSize={22} letterSpacing={0.4} fill="#000">
      {seriesNames[0]}
    </text>
    <circle cx={331.2} cy={135.2} r={2.5} fill="#fff" stroke="#000" strokeWidth={1} />
    <text x={357.7} y={142.7} fontFamily={FONT} fontWeight="bold" fontSize={22} letterSpacing={0.4} fill="#000">
      {seriesNames[1]}
    </text>
  </svg>
);

export default function App() {
  return (
    <div style={{ position: 'absolute', left: 0, top: 0, width: 547, height: 512, background: '#fff' }}>
      <ScatterChart width={547} height={512} margin={{ top: 62, right: 6.5, bottom: 0, left: 0 }}>
        <XAxis
          type="number"
          dataKey="x"
          domain={xDomain}
          ticks={xTicks}
          interval={0}
          allowDataOverflow
          height={42}
          axisLine={false}
          tickLine={false}
          tickSize={0}
          tickMargin={0}
          tick={XTick}
          label={XLabel}
        />
        <YAxis
          type="number"
          dataKey="y"
          domain={yDomain}
          ticks={yTicks}
          interval={0}
          allowDataOverflow
          width={79}
          axisLine={false}
          tickLine={false}
          tickSize={0}
          tickMargin={0}
          tick={YTick}
          label={YLabel}
        />
        <Scatter name={seriesNames[0]} data={internalData} shape={InternalShape} isAnimationActive={false} />
        <Scatter name={seriesNames[1]} data={externalData} shape={ExternalShape} isAnimationActive={false} />
        <ReferenceLine
          segment={[{ x: cutStart, y: densityCut }, { x: cutEnd, y: densityCut }]}
          stroke="#111"
          strokeWidth={1.8}
          strokeDasharray="2.5 2.3"
        />
        <ReferenceLine
          segment={[{ x: cutEnd, y: densityCut }, { x: cutEnd, y: arrowTip }]}
          stroke="#000"
          strokeWidth={1.4}
        />
        <ReferenceDot
          x={cutEnd}
          y={arrowTip}
          r={0}
          shape={(p: any) => (
            <polyline
              points={`${p.cx - 6},${p.cy + 15} ${p.cx},${p.cy} ${p.cx + 6},${p.cy + 15}`}
              fill="none"
              stroke="#000"
              strokeWidth={1.4}
            />
          )}
        />
        <ReferenceDot
          x={cutEnd}
          y={densityCut}
          r={0}
          shape={(p: any) => (
            <text
              x={p.cx - 20.5}
              y={p.cy - 6.6}
              textAnchor="end"
              fontFamily={FONT}
              fontWeight="bold"
              fontSize={19}
              letterSpacing={0.9}
              fill="#000"
            >
              {cutLabel}
            </text>
          )}
        />
        <ReferenceArea
          x1={xDomain[0]}
          x2={xDomain[1]}
          y1={yDomain[0]}
          y2={yDomain[1]}
          fill="none"
          fillOpacity={0}
          stroke={FRAME}
          strokeWidth={1.6}
        />
        <Legend content={renderLegend} wrapperStyle={{ position: 'absolute', left: 0, top: 0, width: 0, height: 0, margin: 0, padding: 0 }} />
      </ScatterChart>
      <svg width={547} height={60} style={{ position: 'absolute', left: 0, top: 0, pointerEvents: 'none' }}>
        <text x={280} y={43.6} textAnchor="middle" fontFamily={FONT} fontSize={45} fill="#000">
          {title}
        </text>
      </svg>
    </div>
  );
}
